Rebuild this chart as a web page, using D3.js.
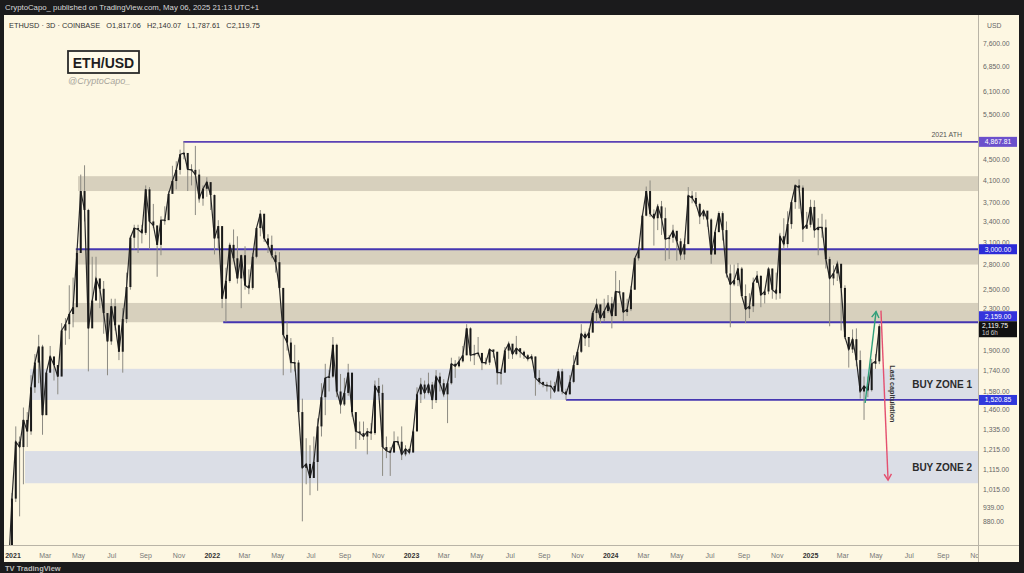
<!DOCTYPE html>
<html><head><meta charset="utf-8">
<script src="https://cdn.jsdelivr.net/npm/d3@7"></script>
<style>html,body{margin:0;padding:0;background:#1b1b1c;overflow:hidden}svg{display:block;font-family:"Liberation Sans",Arial,sans-serif}</style>
</head><body><svg id="c" width="1024" height="573"></svg>
<script>
// ---------- DATA (weekly points, plotted mid-week) ----------
const firstWeek = "2020-12-24";
const closes = [685,975,1260,1230,1390,1320,1610,1800,1935,1420,1720,1850,1780,1690,2080,2140,2240,2310,2950,3900,3580,2100,2380,2630,2510,2250,1980,2320,2130,1890,2190,2530,3160,3300,3280,3230,3930,3400,3340,3060,3420,3420,3850,4080,4290,4600,4630,4300,4290,4200,3770,3940,4060,3830,3150,3330,2400,2600,3060,2880,2630,2920,2550,2520,2900,3300,3520,3150,3060,2920,2830,2520,2040,1970,1800,1800,1440,1120,1140,1070,1150,1350,1540,1680,1690,1950,1580,1490,1570,1720,1440,1320,1310,1290,1320,1310,1620,1570,1230,1210,1200,1260,1260,1190,1220,1200,1320,1560,1630,1570,1630,1520,1690,1640,1560,1640,1790,1770,1810,1860,2100,1860,1870,1880,1800,1800,1910,1890,1720,1720,1900,1960,1870,1920,1890,1860,1830,1850,1680,1650,1630,1620,1620,1580,1730,1580,1560,1650,1780,1890,2050,2010,2060,2250,2340,2200,2270,2350,2220,2480,2470,2260,2290,2500,2880,2990,3490,3900,3520,3450,3640,3450,3140,3160,3260,3110,2930,3070,3820,3780,3680,3480,3570,3430,2930,3240,3530,3270,2690,2560,2610,2750,2430,2290,2320,2580,2660,2440,2480,2750,2500,2460,3180,3070,3360,3710,4000,3960,3290,3350,3630,3270,3310,3310,2870,2630,2690,2810,2520,2020,1910,2000,1820,1580,1620,1590,1790,1810,2119.75];
const highs = [720,1000,1350,1290,1470,1440,1700,1870,2040,1950,1720,1940,1850,1780,2150,2200,2550,2640,2980,4200,4380,3600,2900,2900,2600,2600,2250,2400,2400,2140,2300,2700,3190,3350,3350,3350,4000,3970,3680,3260,3480,3640,3900,4370,4460,4700,4870,4480,4400,4780,4300,4000,4150,3900,3840,3420,3300,2760,3090,3280,3180,2930,3040,2740,2950,3300,3580,3520,3210,3190,2970,2960,2520,2160,2010,1950,1820,1530,1280,1240,1290,1400,1640,1790,1740,2020,1960,1710,1680,1790,1700,1390,1380,1380,1340,1370,1660,1680,1630,1290,1230,1320,1290,1350,1240,1220,1330,1610,1680,1660,1720,1650,1740,1720,1670,1650,1840,1820,1850,1940,2140,2110,1950,2020,1860,1840,1920,1900,1890,1750,1930,1980,1910,2030,1920,1900,1870,1870,1850,1740,1650,1650,1660,1650,1750,1750,1600,1700,1860,1910,2140,2070,2100,2270,2400,2270,2400,2440,2420,2720,2610,2470,2400,2540,2880,3030,3520,3980,4090,3590,3680,3730,3620,3200,3350,3220,3150,3150,3970,3900,3880,3700,3590,3560,3450,3250,3560,3560,3400,2800,2800,2820,2770,2560,2460,2640,2720,2670,2500,2770,2750,2700,3230,3450,3560,3740,4020,4110,4000,3550,3750,3740,3450,3520,3430,2900,2790,2850,2800,2550,2000,2090,2100,1900,1690,1690,1830,1870,2140.07];
const lows = [560,715,960,900,1040,1230,1300,1570,1640,1300,1440,1720,1660,1560,1700,1950,2000,2110,2500,3000,3400,1730,2200,2550,2300,2050,1700,1950,2080,1820,1720,2150,2500,3000,2950,3080,3200,3000,3300,2650,2920,3350,3460,3880,3930,4200,4500,3900,4000,3500,3700,3650,3800,3580,2930,3000,2300,2160,2580,2840,2570,2300,2500,2450,2500,2880,3180,3100,2950,2880,2700,2500,1700,1900,1720,1730,1430,880,1040,990,1070,1010,1290,1420,1580,1680,1540,1430,1480,1550,1410,1220,1270,1270,1190,1270,1300,1550,1080,1170,1080,1200,1240,1160,1180,1190,1200,1320,1500,1530,1560,1460,1500,1580,1540,1370,1630,1680,1760,1800,1860,1810,1780,1850,1740,1780,1780,1840,1630,1630,1720,1830,1830,1860,1840,1830,1810,1820,1550,1630,1610,1580,1530,1570,1590,1560,1520,1560,1640,1780,1880,1940,1930,2090,2160,2150,2170,2250,2100,2220,2450,2170,2220,2270,2500,2850,3000,3480,3470,3050,3270,3200,2850,2870,3090,2850,2860,2860,3080,3690,3640,3360,3430,3320,2810,2960,3300,3120,2640,2110,2540,2540,2430,2150,2200,2260,2580,2310,2350,2450,2400,2390,2400,3000,3020,3290,3600,3600,3100,3320,3310,3160,2920,3160,2750,2120,2550,2600,2080,2000,1760,1880,1770,1530,1390,1540,1580,1750,1787.61];

const priceTicks = [7600,6850,6100,5500,4500,4100,3700,3400,3100,2800,2500,2300,1900,1740,1580,1460,1335,1215,1115,1015,939,880];
const timeTickLabels = ["2021","Mar","May","Jul","Sep","Nov","2022","Mar","May","Jul","Sep","Nov","2023","Mar","May","Jul","Sep","Nov","2024","Mar","May","Jul","Sep","Nov","2025","Mar","May","Jul","Sep","Nov"];

const levelValues = [4867.81, 3000, 2159, 1520.85];
const levelStarts = ["2021-11-10","2021-04-27","2022-01-22","2023-10-12"];
const levelBadgeColors = ["#6b50cc","#2c2cd8","#3434dc","#3038dc"];

const greyZones = [[3900,4170],[2800,3000],[2159,2355]];
const greyZoneStarts = ["2021-05-01","2021-04-27","2021-04-21"];
const buyZones = [[1520.85,1750],[1045,1208]];
const buyZoneStarts = ["2021-02-02","2021-01-24"];
const buyZoneLabels = ["BUY ZONE 1","BUY ZONE 2"];

const lastPrice = 2119.75;
const greenArrow = [["2025-04-12",1500],["2025-05-02",2265]];
const redArrow = [["2025-05-11",2275],["2025-05-24",1060]];
const noteText = "Last capitulation";
const notePoint = ["2025-05-28",1563];

// ---------- LAYOUT ----------
const svg = d3.select("#c");
const L = 4, R = 978, T = 15, B = 545, AX = 1019, BOT = 562;
const parse = d3.utcParse("%Y-%m-%d");
const x = d3.scaleUtc().domain([parse("2021-01-01"), parse("2025-01-01")]).range([12.5, 810]);
const y = d3.scaleLog().domain([791, 8740]).range([B, 12]);
const dates = closes.map((_, i) => d3.utcDay.offset(parse(firstWeek), 7 * i));

svg.append("rect").attr("width",1024).attr("height",573).attr("fill","#1b1b1c");
svg.append("rect").attr("x",L).attr("y",T).attr("width",AX-L).attr("height",BOT-T).attr("fill","#fdf7e2");

const defs = svg.append("defs");
defs.append("clipPath").attr("id","pc").append("rect")
  .attr("x",L).attr("y",T).attr("width",R-L).attr("height",B-T);
defs.append("clipPath").attr("id","xc").append("rect")
  .attr("x",L).attr("y",B).attr("width",R-L).attr("height",BOT-B);
const plot = svg.append("g").attr("clip-path","url(#pc)");

// zones
greyZones.forEach((z,i)=>{
  plot.append("rect").attr("x",x(parse(greyZoneStarts[i]))).attr("width",R - x(parse(greyZoneStarts[i])))
    .attr("y",y(z[1])).attr("height",y(z[0])-y(z[1])).attr("fill","#d7d0bd");
});
buyZones.forEach((z,i)=>{
  plot.append("rect").attr("x",x(parse(buyZoneStarts[i]))).attr("width",R - x(parse(buyZoneStarts[i])))
    .attr("y",y(z[1])).attr("height",y(z[0])-y(z[1])).attr("fill","#dbdee6");
});

// level lines
levelValues.forEach((v,i)=>{
  plot.append("line").attr("x1",x(parse(levelStarts[i]))).attr("x2",R)
    .attr("y1",y(v)).attr("y2",y(v)).attr("stroke", i===0?"#5a41b4":"#4536b0").attr("stroke-width",1.8);
});

// candles
const g = plot.append("g");
g.selectAll("line.w").data(closes).join("line").attr("class","w")
  .attr("x1",(d,i)=>x(dates[i])).attr("x2",(d,i)=>x(dates[i]))
  .attr("y1",(d,i)=>y(highs[i])).attr("y2",(d,i)=>y(lows[i]))
  .attr("stroke","#8c8a82").attr("stroke-width",1);
g.append("path").datum(closes)
  .attr("d", d3.line().x((d,i)=>x(dates[i])).y(d=>y(d)))
  .attr("fill","none").attr("stroke","#2a2a2a").attr("stroke-width",1.2);
g.selectAll("rect.b").data(closes).join("rect").attr("class","b")
  .attr("x",(d,i)=>x(dates[i])-1)
  .attr("width",2)
  .attr("y",(d,i)=>y(Math.max(d, i? closes[i-1]:d)))
  .attr("height",(d,i)=>Math.max(1, y(Math.min(d, i?closes[i-1]:d)) - y(Math.max(d, i?closes[i-1]:d))))
  .attr("fill","#1a1a1a");

// arrows
function arrow(pts, color){
  const p0=[x(parse(pts[0][0])), y(pts[0][1])], p1=[x(parse(pts[1][0])), y(pts[1][1])];
  plot.append("line").attr("x1",p0[0]).attr("y1",p0[1]).attr("x2",p1[0]).attr("y2",p1[1])
    .attr("stroke",color).attr("stroke-width",1.4);
  const ang=Math.atan2(p1[1]-p0[1],p1[0]-p0[0]);
  const s=7, a=0.55;
  const h1=[p1[0]-s*Math.cos(ang-a), p1[1]-s*Math.sin(ang-a)];
  const h2=[p1[0]-s*Math.cos(ang+a), p1[1]-s*Math.sin(ang+a)];
  plot.append("path").attr("d",`M${h1}L${p1}L${h2}`).attr("fill","none").attr("stroke",color).attr("stroke-width",1.4);
}
arrow(greenArrow,"#2f9f7a");
arrow(redArrow,"#e4506f");

plot.append("text").attr("transform",`translate(${x(parse(notePoint[0]))},${y(notePoint[1])}) rotate(90)`)
  .attr("text-anchor","middle").attr("font-size",7.2).attr("font-weight",700).attr("fill","#333").text(noteText);

// zone labels
buyZones.forEach((z,i)=>{
  plot.append("text").attr("x",R-6).attr("y",y(Math.sqrt(z[0]*z[1]))+3.5).attr("text-anchor","end")
    .attr("font-size",10).attr("font-weight",700).attr("fill","#2b2b2b").text(buyZoneLabels[i]);
});
plot.append("text").attr("x",R-16).attr("y",y(levelValues[0])-5).attr("text-anchor","end")
  .attr("font-size",7).attr("fill","#555").text("2021 ATH");

// axes frame
svg.append("line").attr("x1",R+0.5).attr("x2",R+0.5).attr("y1",T).attr("y2",BOT).attr("stroke","#b9b4a6");
svg.append("line").attr("x1",L).attr("x2",AX).attr("y1",B+0.5).attr("y2",B+0.5).attr("stroke","#b9b4a6");

// price axis
const ya = svg.append("g").attr("transform",`translate(${R+5},0)`)
  .call(d3.axisRight(y).tickValues(priceTicks).tickSize(0).tickFormat(d3.format(",.2f")));
ya.select(".domain").remove();
ya.selectAll("text").attr("font-size",6.8).attr("fill","#666").attr("x",0).attr("font-family","Liberation Sans, Arial");
svg.append("text").attr("x",R+9).attr("y",28).attr("font-size",6.8).attr("fill","#666").text("USD");

// badges
levelValues.forEach((v,i)=>{
  const cy = i===2 ? y(v)-6 : y(v);
  svg.append("rect").attr("x",R+1).attr("y",cy-5).attr("width",38).attr("height",10).attr("fill",levelBadgeColors[i]);
  svg.append("text").attr("x",R+20).attr("y",cy+2.4).attr("text-anchor","middle").attr("font-size",6.8)
    .attr("fill","#fff").text(d3.format(",.2f")(v));
});
const ly = y(levelValues[2]) - 1;
svg.append("rect").attr("x",R+1).attr("y",ly).attr("width",38).attr("height",16).attr("fill","#111");
svg.append("text").attr("x",R+4).attr("y",ly+7).attr("font-size",6.8).attr("fill","#fff").text(d3.format(",.2f")(lastPrice));
svg.append("text").attr("x",R+4).attr("y",ly+14).attr("font-size",6.3).attr("fill","#ccc").text("1d 6h");

// time axis
const timeTicks = d3.utcMonth.every(2).range(parse("2021-01-01"), parse("2025-12-01"));
const xa = svg.append("g").attr("clip-path","url(#xc)").append("g").attr("transform",`translate(0,${B+5})`)
  .call(d3.axisBottom(x).tickValues(timeTicks).tickSize(0).tickFormat((d,i)=>timeTickLabels[i]));
xa.select(".domain").remove();
xa.selectAll("text").attr("font-size",7).attr("fill",(d,i)=>timeTickLabels[i].length===4?"#333":"#777")
  .attr("font-weight",(d,i)=>timeTickLabels[i].length===4?700:400).attr("font-family","Liberation Sans, Arial");

// header / titles
svg.append("text").attr("x",5).attr("y",10).attr("font-size",7.8).attr("fill","#d8d8d8")
  .text("CryptoCapo_ published on TradingView.com, May 06, 2025 21:13 UTC+1");
svg.append("text").attr("x",9).attr("y",28).attr("font-size",7.4).attr("fill","#333").style("white-space","pre")
  .text("ETHUSD · 3D · COINBASE   O1,817.06   H2,140.07   L1,787.61   C2,119.75");
svg.append("rect").attr("x",68).attr("y",51).attr("width",71).attr("height",22)
  .attr("fill","#fffbea").attr("stroke","#2a2a2a").attr("stroke-width",1.8);
svg.append("text").attr("x",103.5).attr("y",67.5).attr("text-anchor","middle").attr("font-size",14)
  .attr("font-weight",700).attr("fill","#1e1e1e").text("ETH/USD");
svg.append("text").attr("x",68).attr("y",84).attr("font-size",9).attr("fill","#a8a59c").attr("font-style","italic").text("@CryptoCapo_");
svg.append("text").attr("x",5).attr("y",571).attr("font-size",7.5).attr("font-weight",700).attr("fill","#bbb").text("TV TradingView");
</script></body></html>
